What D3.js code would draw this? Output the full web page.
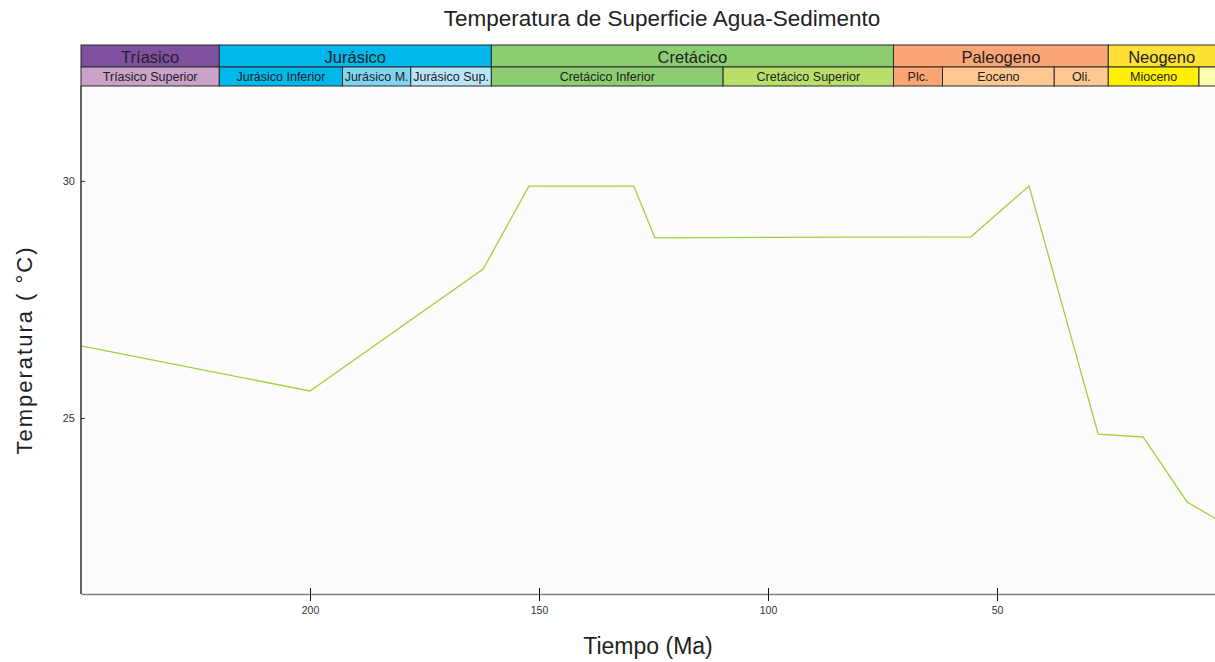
<!DOCTYPE html>
<html>
<head>
<meta charset="utf-8">
<script src="https://cdn.jsdelivr.net/npm/d3@7"></script>
<style>
  html, body { margin: 0; padding: 0; background: #ffffff; overflow: hidden; }
  svg { display: block; font-family: "Liberation Sans", Arial, sans-serif; }
</style>
</head>
<body>
<svg id="chart" width="1215" height="662"></svg>
<script>
// Temperature series (age in Ma, temperature in °C)
const ages  = [250, 200, 162.2, 152.2, 129.3, 124.7, 55.7, 43.0, 27.9, 18.1, 8.5, 0];
const temps = [26.52, 25.57, 28.14, 29.89, 29.89, 28.80, 28.82, 29.89, 24.66, 24.60, 23.23, 22.75];

// Geological periods (top row of the time band)
const periodNames  = ["Tríasico", "Jurásico", "Cretácico", "Paleogeno", "Neogeno"];
const periodStart  = [250, 219.8, 160.4, 72.6, 25.7];
const periodEnd    = [219.8, 160.4, 72.6, 25.7, 0];
const periodColors = ["#7f50a0", "#00b8eb", "#8ccd72", "#fda675", "#ffe135"];

// Epochs (second row of the time band)
const epochNames  = ["Tríasico Superior", "Jurásico Inferior", "Jurásico M.", "Jurásico Sup.",
                     "Cretácico Inferior", "Cretácico Superior", "Plc.", "Eoceno", "Oli.",
                     "Mioceno", ""];
const epochStart  = [250, 219.8, 192.9, 178.0, 160.4, 109.8, 72.6, 61.9, 37.5, 25.7, 5.9];
const epochEnd    = [219.8, 192.9, 178.0, 160.4, 109.8, 72.6, 61.9, 37.5, 25.7, 5.9, 0];
const epochColors = ["#c9a1c9", "#00b8eb", "#7fd4f0", "#b8e6f8", "#8ccd72", "#b9df6a",
                     "#fda675", "#fdc891", "#fdc891", "#fff000", "#ffffb0"];

// Axis ticks
const xTicks = [200, 150, 100, 50];
const yTicks = [25, 30];

const svg = d3.select("#chart");
const W = 1215, H = 662;
const plot = { left: 81, right: 1226, top: 86, bottom: 594 };
const band = { top: 45, mid: 67, bottom: 86 };

const x = d3.scaleLinear().domain([250, 0]).range([plot.left, plot.right]);
const y = d3.scaleLinear().domain([21.29, 32.0]).range([plot.bottom, plot.top]);

// Plot background
svg.append("rect")
  .attr("x", plot.left).attr("y", plot.top)
  .attr("width", plot.right - plot.left).attr("height", plot.bottom - plot.top)
  .attr("fill", "#fcfcfc");

// Time band: periods
const pRows = periodNames.map((n, i) => ({ name: n, s: periodStart[i], e: periodEnd[i], c: periodColors[i] }));
const pg = svg.append("g");
pg.selectAll("rect").data(pRows).join("rect")
  .attr("x", d => x(d.s)).attr("y", band.top)
  .attr("width", d => x(d.e) - x(d.s)).attr("height", band.mid - band.top)
  .attr("fill", d => d.c).attr("stroke", "#2b2b2b").attr("stroke-width", 1);
pg.selectAll("text").data(pRows).join("text")
  .attr("x", d => (x(d.s) + Math.min(x(d.e), W)) / 2)
  .attr("y", band.mid - 4)
  .attr("text-anchor", "middle")
  .attr("font-size", 16.5).attr("fill", "#222")
  .text(d => d.name);

// Time band: epochs
const eRows = epochNames.map((n, i) => ({ name: n, s: epochStart[i], e: epochEnd[i], c: epochColors[i] }));
const eg = svg.append("g");
eg.selectAll("rect").data(eRows).join("rect")
  .attr("x", d => x(d.s)).attr("y", band.mid)
  .attr("width", d => x(d.e) - x(d.s)).attr("height", band.bottom - band.mid)
  .attr("fill", d => d.c).attr("stroke", "#2b2b2b").attr("stroke-width", 1);
eg.selectAll("text").data(eRows).join("text")
  .attr("x", d => (x(d.s) + x(d.e)) / 2)
  .attr("y", band.bottom - 5)
  .attr("text-anchor", "middle")
  .attr("font-size", 12.5).attr("fill", "#222")
  .text(d => d.name);

// Temperature line
const pts = ages.map((a, i) => [a, temps[i]]);
svg.append("path")
  .datum(pts)
  .attr("fill", "none")
  .attr("stroke", "#a2d03c")
  .attr("stroke-width", 1.3)
  .attr("d", d3.line().x(d => x(d[0])).y(d => y(d[1])));

// X axis
const xAxis = svg.append("g")
  .attr("transform", `translate(0,${plot.bottom})`)
  .call(d3.axisBottom(x).tickValues(xTicks).tickSize(0).tickPadding(13).tickFormat(d3.format("d")));
xAxis.select(".domain").attr("stroke", "#808080").attr("stroke-width", 1.5);
xAxis.selectAll(".tick text").attr("font-size", 10.5).attr("fill", "#333").attr("font-family", "Liberation Sans, Arial, sans-serif");
xAxis.selectAll(".tick").append("line")
  .attr("y1", -6).attr("y2", 7).attr("stroke", "#111").attr("stroke-width", 1);

// Y axis
const yAxis = svg.append("g")
  .attr("transform", `translate(${plot.left},0)`)
  .call(d3.axisLeft(y).tickValues(yTicks).tickSize(0).tickPadding(6).tickFormat(d3.format("d")));
yAxis.select(".domain").remove();
yAxis.selectAll(".tick text").attr("font-size", 11).attr("fill", "#333").attr("font-family", "Liberation Sans, Arial, sans-serif");
yAxis.selectAll(".tick").append("line")
  .attr("x1", 0).attr("x2", 4).attr("stroke", "#333").attr("stroke-width", 1);
svg.append("line")
  .attr("x1", plot.left).attr("x2", plot.left)
  .attr("y1", band.bottom).attr("y2", plot.bottom)
  .attr("stroke", "#111").attr("stroke-width", 1.3);

// Titles
svg.append("text")
  .attr("x", 662).attr("y", 26)
  .attr("text-anchor", "middle")
  .attr("font-size", 22.5).attr("fill", "#222")
  .text("Temperatura de Superficie Agua-Sedimento");

svg.append("text")
  .attr("x", 648).attr("y", 654)
  .attr("text-anchor", "middle")
  .attr("font-size", 23).attr("fill", "#222")
  .text("Tiempo (Ma)");

svg.append("text")
  .attr("transform", "translate(32,350) rotate(-90)")
  .attr("text-anchor", "middle")
  .attr("font-size", 22).attr("letter-spacing", 2).attr("fill", "#222")
  .text("Temperatura ( °C)");
</script>
</body>
</html>
